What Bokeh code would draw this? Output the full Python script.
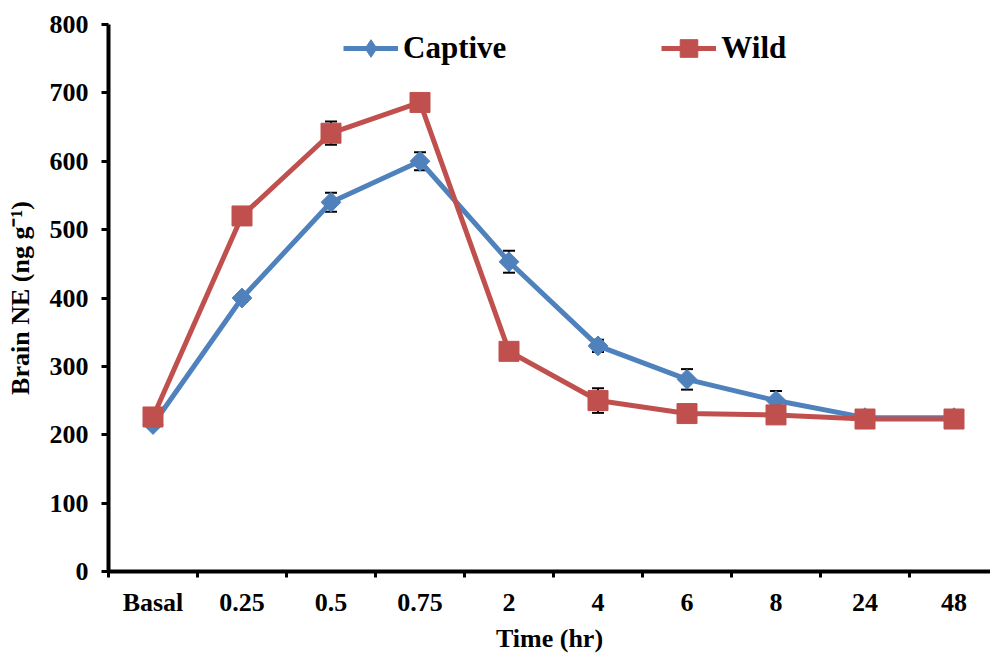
import numpy as np
from bokeh.plotting import figure
from bokeh.models import (ColumnDataSource, Range1d, FixedTicker, Whisker,
                          TeeHead, Legend, LegendItem)
from bokeh.embed import file_html
from bokeh.resources import INLINE

# Brain norepinephrine after stress, captive vs wild birds
categories = ["Basal", "0.25", "0.5", "0.75", "2", "4", "6", "8", "24", "48"]
captive = [215, 400, 540, 600, 453, 330, 281, 250, 225, 225]
captive_se = [5, 6, 14, 13, 16, 9, 15, 14, 3, 3]
wild = [226, 520, 641, 686, 322, 250, 231, 229, 223, 223]
wild_se = [5, 6, 17, 8, 6, 18, 5, 5, 4, 4]
y_ticks = [0, 100, 200, 300, 400, 500, 600, 700, 800]

BLUE = "#4F81BD"
RED = "#C0504D"
FONT = "Liberation Serif"

x = np.arange(len(categories)) + 0.5
bounds = list(np.arange(len(categories)))

src_c = ColumnDataSource(dict(
    x=x, y=captive,
    lo=np.array(captive) - np.array(captive_se),
    hi=np.array(captive) + np.array(captive_se)))
src_w = ColumnDataSource(dict(
    x=x, y=wild,
    lo=np.array(wild) - np.array(wild_se),
    hi=np.array(wild) + np.array(wild_se)))

p = figure(width=990, height=655, output_backend="svg", toolbar_location=None,
           x_range=Range1d(0, 9.91), y_range=Range1d(0, 800),
           min_border_left=108, min_border_right=0,
           min_border_top=24, min_border_bottom=83)
p.outline_line_color = None
p.xgrid.visible = False
p.ygrid.visible = False
p.background_fill_color = "white"
p.border_fill_color = "white"

# error bars sit beneath the series
for src in (src_c, src_w):
    w = Whisker(base="x", lower="lo", upper="hi", source=src,
                line_color="black", line_width=2,
                upper_head=TeeHead(size=12, line_width=2, line_color="black"),
                lower_head=TeeHead(size=12, line_width=2, line_color="black"))
    p.add_layout(w)

line_c = p.line("x", "y", source=src_c, line_color=BLUE, line_width=5)
# narrow diamonds used as the legend swatch; covered by the wider ones below
key_c = p.scatter("x", "y", source=src_c, marker="diamond", size=16,
                  fill_color=BLUE, line_color=BLUE)
# rotated squares give evenly proportioned diamonds
mark_c = p.scatter("x", "y", source=src_c, marker="square", angle=np.pi / 4,
                   size=14, fill_color=BLUE, line_color=BLUE)
line_w = p.line("x", "y", source=src_w, line_color=RED, line_width=5)
mark_w = p.scatter("x", "y", source=src_w, marker="square", size=20,
                   fill_color=RED, line_color=RED)

# x axis: labels at category centres, tick marks on category boundaries
xa = p.xaxis[0]
xa.ticker = FixedTicker(ticks=list(x), minor_ticks=bounds)
xa.major_label_overrides = {float(v): c for v, c in zip(x, categories)}
xa.major_tick_out = 0
xa.major_tick_in = 0
xa.minor_tick_out = 6
xa.minor_tick_in = 0
xa.minor_tick_line_width = 3
xa.minor_tick_line_color = "black"
xa.axis_line_width = 4
xa.axis_label = "Time (hr)"
xa.major_label_standoff = 10
xa.axis_label_standoff = 4

ya = p.yaxis[0]
ya.ticker = FixedTicker(ticks=y_ticks)
ya.major_tick_out = 7
ya.major_tick_in = 0
ya.major_tick_line_width = 3
ya.minor_tick_line_color = None
ya.axis_line_width = 4
ya.axis_label = "Brain NE (ng g\u207b\u00b9)"
ya.major_label_standoff = 13
ya.axis_label_standoff = 12

for ax in (xa, ya):
    ax.major_label_text_font = FONT
    ax.major_label_text_font_style = "bold"
    ax.major_label_text_font_size = "26px"
    ax.major_label_text_color = "black"
    ax.axis_label_text_font = FONT
    ax.axis_label_text_font_style = "bold"
    ax.axis_label_text_font_size = "26px"
    ax.axis_label_text_color = "black"
    ax.axis_line_color = "black"
    ax.major_tick_line_color = "black"

legend = Legend(items=[LegendItem(label="Captive", renderers=[line_c, key_c]),
                       LegendItem(label="Wild", renderers=[line_w, mark_w])],
                orientation="horizontal", location=(235, 501),
                glyph_width=55, glyph_height=44, label_standoff=5,
                spacing=155, padding=0, margin=0,
                border_line_color=None, background_fill_alpha=0,
                label_text_font=FONT, label_text_font_style="bold",
                label_text_font_size="31px", label_text_color="black")
p.add_layout(legend)

open("out.html", "w").write(file_html(p, INLINE))
